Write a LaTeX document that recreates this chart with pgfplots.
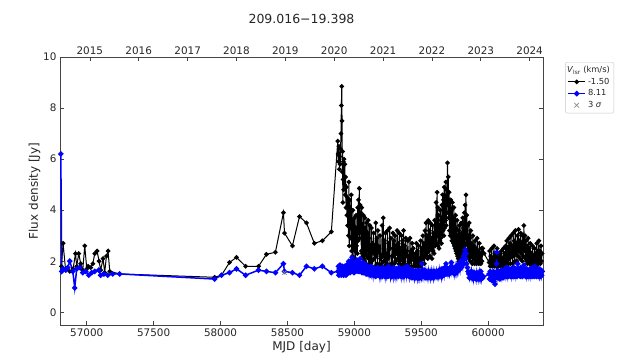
\documentclass[border=0pt]{standalone}
\usepackage{pgfplots}
\pgfplotsset{compat=1.18}
\usepackage{fontspec}
\setmainfont{DejaVu Sans}

\definecolor{framegray}{HTML}{444444}
\definecolor{labelgray}{HTML}{262626}

\begin{document}
\begin{tikzpicture}
\pgfplotsset{
  lcstyle/.style={
    width=483pt, height=268pt, scale only axis,
    xmin=56800, xmax=60410,
    ymin=-0.5, ymax=10,
    axis line style={framegray, line width=0.8pt},
    tick style={framegray, line width=0.6pt},
    tick align=inside,
    major tick length=4pt,
    scaled x ticks=false,
    /pgf/number format/assume math mode=true,
    /pgf/number format/1000 sep={},
    ticklabel style={font=\fontsize{10.4}{12}\selectfont, text=labelgray},
    label style={font=\fontsize{12}{14}\selectfont, text=labelgray},
  }
}
\begin{axis}[lcstyle, name=ax,
  xtick={57000,57500,58000,58500,59000,59500,60000},
  ytick={0,2,4,6,8,10},
  xtick pos=bottom, ytick pos=both,
  xlabel={MJD [day]}, ylabel={Flux density [Jy]},
  xlabel style={yshift=2pt}, ylabel style={yshift=-4pt},
  clip=true,
  legend style={at={(1.046,0.981)}, anchor=north west,
    font=\fontsize{8.3}{10}\selectfont, text=labelgray,
    draw=black!22, rounded corners=2pt, inner sep=2pt,
    row sep=0pt},
  legend cell align=left,
]
\addlegendimage{empty legend}
\addlegendentry{\hspace{-21pt}\textit{V}\textsubscript{lsr} (km/s)}

% V = -1.50 km/s
\addplot[black, line width=1pt, mark=*, mark size=1.8pt] coordinates {
(56811,1.8)(56823,2.7)(56841,1.7)(56873,1.6)(56898,1.7)(56916,2.3)(56925,1.8)(56940,2.3)(56955,1.9)(56970,1.65)(56985,2.6)(57000,1.7)(57010,1.8)(57030,1.75)(57045,1.9)(57060,2.3)(57077,2.4)(57092,2.0)(57104,1.65)(57122,2.1)(57134,1.55)(57147,2.2)(57159,2.4)(57172,1.6)(57246,1.5)
(57955,1.37)(58007,1.45)(58067,1.95)(58119,2.15)(58187,1.8)(58284,1.8)(58343,2.27)(58410,2.35)(58470,3.9)(58478,3.1)(58537,2.6)(58590,3.75)(58642,3.5)(58701,2.7)(58761,2.8)(58828,3.15)
(58876,6.7)(58879,6.2)(58882,5.9)(58885,6.5)(58888,5.6)(58891,6.1)(58894,5.8)(58897,6.4)(58900,7.0)(58903,8.1)(58906,8.85)(58908,7.5)(58910,5.5)(58912,6.3)(58914,4.3)(58916,5.2)(58918,5.9)(58920,4.8)(58923,6.0)(58926,5.0)(58929,5.8)(58932,4.6)(58935,5.3)(58938,4.1)(58941,4.9)(58944,3.8)(58947,4.5)(58950,3.4)
(58953,4.2)(58956,3.0)(58959,5.1)(58962,2.6)(58965,4.4)(58968,3.3)(58971,3.9)(58974,2.9)(58977,4.6)(58980,2.4)(58983,3.6)(58986,2.2)(58989,4.0)(58992,2.5)(58995,3.4)(58998,2.1)
(59001,3.7)(59004,2.4)(59007,2.8)(59010,2.0)(59013,3.8)(59016,2.6)(59019,3.3)(59022,2.3)(59025,4.1)(59028,2.8)(59031,4.4)(59034,3.1)(59037,4.85)(59040,2.9)(59043,4.2)(59046,3.2)(59049,3.9)(59052,2.4)(59055,4.1)(59058,2.3)(59061,3.2)(59064,2.2)(59067,3.8)(59070,2.1)(59073,3.3)
(59076,2.0)(59079,3.7)(59082,2.3)(59085,2.7)(59088,1.9)(59091,3.5)(59094,2.2)(59097,3.0)(59100,2.5)(59103,3.6)(59106,2.1)(59109,2.9)(59112,1.9)(59115,3.4)(59118,2.0)(59121,2.4)(59124,1.9)
(59128,3.3)(59132,2.0)(59136,2.7)(59140,2.3)(59144,3.1)(59148,2.1)(59152,2.6)(59156,1.8)(59160,3.5)(59164,2.2)(59168,2.9)(59172,1.9)(59176,3.2)(59180,2.4)(59184,2.5)(59188,1.8)(59192,3.0)(59196,2.1)(59200,2.2)(59204,1.9)(59208,3.4)(59212,2.2)(59216,3.7)(59220,2.0)(59224,2.8)(59228,1.8)(59232,3.1)(59236,2.0)(59240,2.2)(59244,1.9)(59248,3.2)(59252,2.1)(59256,2.7)(59260,1.8)(59264,3.3)(59268,2.5)(59272,2.9)(59276,1.9)(59280,2.2)(59284,1.8)(59288,3.1)(59292,2.2)(59296,2.8)(59300,1.9)(59304,3.0)(59308,2.0)(59312,2.6)(59316,2.3)(59320,3.2)(59324,2.1)(59328,2.7)(59332,1.9)(59336,3.1)(59340,2.0)(59344,2.5)(59348,1.8)(59352,3.0)(59356,2.1)(59360,2.8)(59364,1.9)(59368,3.2)(59372,2.0)(59376,2.6)(59380,1.8)(59384,2.9)(59388,2.2)(59392,2.4)(59396,1.8)(59400,2.8)(59404,1.9)(59408,2.2)(59412,1.8)(59416,2.9)(59420,2.0)(59424,2.4)(59428,1.8)(59432,2.7)(59436,2.1)(59440,2.5)(59444,1.8)(59448,2.2)(59452,1.9)(59456,2.3)(59460,1.8)(59464,2.7)(59468,2.0)(59472,2.4)(59476,1.8)(59480,2.6)(59484,1.9)(59488,2.1)(59492,1.8)(59496,2.8)(59500,2.0)(59504,2.5)(59508,1.9)(59512,3.0)(59516,2.1)(59520,2.7)(59524,1.9)(59528,3.2)(59532,2.2)
(59536,3.5)(59540,2.3)(59544,3.0)(59548,2.1)(59552,3.6)(59556,2.4)(59560,3.2)(59564,2.2)(59568,3.5)(59572,2.5)(59576,2.9)(59580,2.1)(59584,3.4)(59588,2.4)(59592,3.1)(59596,2.3)(59600,3.6)(59604,2.6)(59608,3.3)
(59612,4.3)(59615,2.7)(59618,4.7)(59621,3.0)(59624,4.1)(59627,2.6)(59630,3.8)(59633,2.5)(59636,3.4)(59639,2.8)(59642,4.0)(59645,2.9)(59648,3.6)(59651,2.7)(59654,4.2)(59657,3.0)
(59660,4.6)(59663,3.2)(59666,4.4)(59669,3.0)(59672,4.9)(59675,3.3)(59678,4.5)(59681,3.6)(59684,5.1)(59687,3.4)(59690,4.8)(59693,3.9)(59696,5.85)(59699,4.2)(59702,5.3)(59705,3.7)(59708,4.7)(59711,3.2)(59714,4.4)(59717,3.0)
(59720,4.4)(59723,3.1)(59726,4.0)(59729,2.8)(59732,4.3)(59735,2.9)(59738,3.7)(59741,2.7)(59744,4.1)(59747,2.6)(59750,3.6)(59753,2.5)(59756,3.8)(59759,2.4)(59762,3.3)(59765,2.3)(59768,3.6)(59771,2.2)(59774,3.0)(59777,2.1)(59780,3.2)(59783,2.0)
(59786,3.4)(59789,2.2)(59792,3.0)(59795,2.1)(59798,3.5)(59801,2.3)(59804,3.1)(59807,2.2)(59810,3.7)(59813,2.4)(59816,3.3)(59819,2.5)(59822,3.9)(59825,2.6)(59828,4.2)(59831,2.9)(59834,4.6)(59837,2.7)(59840,3.8)
(59843,2.4)(59846,3.4)(59849,2.2)(59852,3.0)(59855,2.1)(59858,3.5)(59861,2.3)(59864,2.9)(59867,2.0)(59870,3.2)(59874,2.2)(59878,2.7)(59882,1.9)(59886,3.0)(59890,2.1)(59894,2.6)(59898,1.9)(59902,2.8)(59906,2.0)(59910,2.5)(59914,1.9)(59918,2.9)(59922,2.0)(59926,2.4)(59930,1.9)(59934,2.7)(59938,2.0)(59942,2.3)(59946,1.9)(59950,2.5)(59954,2.0)(59960,2.5)(59970,2.3)
(60007,1.95)(60011,2.4)(60015,1.8)(60019,2.2)(60023,1.9)(60027,2.5)(60031,1.8)(60035,2.1)(60039,1.9)(60043,2.6)(60047,1.8)(60051,2.3)(60055,1.9)(60059,2.2)(60063,1.8)(60067,2.5)(60071,1.9)(60075,2.1)(60079,1.8)(60083,2.3)(60087,1.9)(60091,2.2)(60095,1.8)(60099,2.4)(60103,1.9)(60107,2.1)(60111,1.8)(60115,2.5)(60119,2.0)(60123,2.3)(60127,1.9)(60131,2.6)(60135,2.0)(60139,2.8)(60143,2.0)(60147,2.5)(60151,1.9)(60155,2.9)
(60159,2.1)(60163,2.7)(60167,1.9)(60171,3.0)(60175,2.2)(60179,2.6)(60183,1.9)(60187,3.1)(60191,2.2)(60195,2.8)(60199,2.0)(60203,3.2)(60207,2.3)(60211,2.7)(60215,2.0)(60219,3.0)(60223,2.2)(60227,3.25)(60231,2.4)(60235,2.8)(60239,2.1)(60243,3.1)(60247,2.3)(60251,2.7)(60255,2.0)(60259,3.0)(60263,2.2)(60267,3.4)(60271,2.4)(60275,3.0)(60279,2.1)(60283,2.8)(60287,2.0)(60291,2.6)(60295,1.9)(60299,2.9)
(60303,2.0)(60307,2.5)(60311,1.9)(60315,2.7)(60319,2.0)(60323,2.3)(60327,1.8)(60331,2.6)(60335,1.9)(60339,2.2)(60343,1.8)(60347,2.5)(60351,1.9)(60355,2.3)(60359,1.8)(60363,2.7)(60367,2.0)(60371,2.4)(60375,1.9)(60379,2.8)(60383,2.0)(60387,2.4)(60391,1.9)(60395,2.6)(60399,2.0)(60403,2.3)
};
\addlegendentry{-1.50}

% V = 8.11 km/s
\addplot[blue, line width=1.5pt, mark=*, mark size=1.9pt] coordinates {
(56806,6.2)(56813,1.6)(56821,1.7)(56843,1.65)(56858,1.75)(56873,2.0)(56896,1.6)(56910,0.95)(56925,1.7)(56948,1.75)(56970,1.55)(56993,1.6)(57015,1.45)(57037,1.55)(57060,1.6)(57090,1.65)(57104,1.45)(57127,1.5)(57157,1.45)(57194,1.5)(57246,1.5)
(57955,1.3)(58007,1.45)(58067,1.55)(58119,1.7)(58187,1.45)(58284,1.65)(58343,1.6)(58410,1.55)(58470,1.9)(58478,1.6)(58537,1.55)(58590,1.45)(58642,1.8)(58701,1.7)(58761,1.8)(58828,1.55)
(58878,1.6)(58881,1.8)(58884,1.45)(58887,1.7)(58890,1.5)(58893,1.85)(58896,1.55)(58899,1.75)(58902,1.45)(58905,1.7)(58908,1.5)(58911,1.8)(58914,1.55)(58917,1.75)(58920,1.45)(58923,1.65)(58926,1.5)(58929,1.8)(58932,1.55)(58935,1.7)(58938,1.45)(58941,1.75)(58944,1.5)(58947,1.85)(58950,1.55)
(58953,1.9)(58956,1.6)(58959,2.0)(58962,1.65)(58965,1.85)(58968,1.55)(58971,2.0)(58974,1.7)(58977,1.9)(58980,1.6)(58983,2.15)(58986,1.7)(58989,1.95)(58992,1.6)(58995,1.85)(58998,1.55)(59001,1.9)(59004,1.65)(59007,2.0)(59010,1.6)(59013,1.85)(59016,1.7)(59019,2.05)(59022,1.65)(59025,1.9)(59028,1.6)(59031,2.0)(59034,1.7)(59037,1.85)(59040,1.6)(59043,2.1)(59046,1.7)(59049,1.9)(59052,1.6)(59055,1.85)(59058,1.55)(59061,1.95)(59064,1.65)(59067,1.8)(59070,1.55)(59073,1.9)(59076,1.6)(59079,1.8)(59082,1.55)(59085,1.75)(59088,1.5)(59091,1.85)(59094,1.6)(59097,1.75)(59100,1.5)
(59105,1.75)(59110,1.5)(59115,1.7)(59120,1.45)(59125,1.8)(59130,1.5)(59135,1.65)(59140,1.45)(59145,1.75)(59150,1.5)(59155,1.65)(59160,1.4)(59165,1.7)(59170,1.45)(59175,1.75)(59180,1.5)(59185,1.6)(59190,1.4)(59195,1.7)(59200,1.45)(59205,1.65)(59210,1.4)(59215,1.75)(59220,1.5)(59225,1.6)(59230,1.4)(59235,1.7)(59240,1.45)(59245,1.65)(59250,1.4)(59255,1.8)(59260,1.5)(59265,1.6)(59270,1.4)(59275,1.7)(59280,1.45)(59285,1.6)(59290,1.4)(59295,1.75)(59300,1.45)(59305,1.6)(59310,1.4)(59315,1.7)(59320,1.45)(59325,1.65)(59330,1.4)(59335,1.75)(59340,1.5)(59345,1.6)(59350,1.4)(59355,1.7)(59360,1.45)(59365,1.6)(59370,1.4)(59375,1.75)(59380,1.5)(59385,1.65)(59390,1.45)(59395,1.8)(59400,1.5)
(59405,1.6)(59410,1.4)(59415,1.7)(59420,1.45)(59425,1.6)(59430,1.35)(59435,1.65)(59440,1.4)(59445,1.55)(59450,1.35)(59455,1.6)(59460,1.4)(59465,1.55)(59470,1.35)(59475,1.65)(59480,1.4)(59485,1.6)(59490,1.35)(59495,1.55)(59500,1.4)(59505,1.9)(59510,1.45)(59515,1.6)(59520,1.4)(59525,1.65)(59530,1.35)(59535,1.6)(59540,1.4)(59545,1.55)(59550,1.35)(59555,1.6)(59560,1.4)(59565,1.55)(59570,1.35)(59575,1.6)(59580,1.4)(59585,1.55)(59590,1.35)(59595,1.6)(59600,1.4)(59605,1.55)(59610,1.4)(59615,1.6)(59620,1.4)(59625,1.55)(59630,1.4)(59635,1.65)(59640,1.45)(59645,1.6)(59650,1.4)(59655,1.7)(59660,1.45)(59665,1.6)(59670,1.45)(59675,1.75)(59680,1.5)(59685,1.9)(59690,1.5)(59695,1.7)(59700,1.5)
(59705,1.65)(59710,1.5)(59715,1.75)(59720,1.55)(59725,1.95)(59730,1.6)(59735,1.75)(59740,1.55)(59745,1.7)(59750,1.5)(59755,1.75)(59760,1.55)(59765,1.8)(59770,1.6)(59775,1.85)(59780,1.65)(59785,1.9)(59790,1.7)(59795,2.0)(59800,1.75)(59805,2.05)(59810,1.85)(59815,2.2)(59820,1.9)(59825,2.3)(59828,2.45)(59832,2.1)(59836,2.3)(59840,1.9)(59845,1.75)(59850,1.6)
(59855,1.5)(59860,1.35)(59865,1.55)(59870,1.4)(59875,1.6)(59880,1.35)(59885,1.5)(59890,1.3)(59895,1.55)(59900,1.4)(59905,1.5)(59910,1.3)(59915,1.55)(59920,1.35)(59925,1.5)(59930,1.3)(59935,1.55)(59940,1.35)(59945,1.6)(59950,1.3)(59955,1.45)(59960,1.35)
(60007,1.5)(60011,1.3)(60015,1.6)(60019,1.35)(60023,1.55)(60027,1.25)(60031,1.5)(60035,1.3)(60039,1.6)(60043,1.2)(60047,1.45)(60051,1.1)(60055,1.5)(60059,1.35)(60063,1.9)(60065,2.35)(60068,1.6)(60072,1.4)(60076,1.6)(60080,1.35)(60084,1.55)(60088,1.3)(60092,1.6)(60096,1.4)(60100,1.65)(60104,1.4)(60108,1.55)(60112,1.35)(60116,1.6)(60120,1.4)(60124,1.7)(60128,1.45)(60132,1.6)(60136,1.4)(60140,1.75)(60144,1.45)(60148,1.6)(60152,1.4)(60156,1.7)
(60160,1.45)(60164,1.65)(60168,1.4)(60172,1.7)(60176,1.45)(60180,1.6)(60184,1.4)(60188,1.75)(60192,1.5)(60196,1.65)(60200,1.4)(60204,1.7)(60208,1.45)(60212,1.6)(60216,1.4)(60220,1.9)(60224,1.5)(60228,1.7)(60232,1.45)(60236,1.65)(60240,1.4)(60244,1.75)(60248,1.5)(60252,1.6)(60256,1.4)(60260,1.7)(60264,1.45)(60268,1.85)(60272,1.5)(60276,1.65)(60280,1.4)(60284,1.7)(60288,1.45)(60292,1.6)(60296,1.4)(60300,1.65)(60304,1.45)(60308,1.6)(60312,1.4)(60316,1.7)(60320,1.45)(60324,1.6)(60328,1.4)(60332,1.75)(60336,1.5)(60340,1.6)(60344,1.4)(60348,1.8)(60352,1.45)(60356,1.6)(60360,1.4)(60364,1.7)(60368,1.45)(60372,1.65)(60376,1.4)(60380,1.7)(60384,1.45)(60388,1.6)(60392,1.4)(60396,1.65)(60400,1.45)(60404,1.6)
};
\addlegendentry{8.11}

% detections below 3 sigma
\addplot[only marks, mark=x, mark size=3.2pt, black!45, line width=0.7pt] coordinates {(58478,1.55)};
\addlegendentry{3 \textit{σ}}
\end{axis}

% calendar years along the top
\begin{axis}[lcstyle,
  axis y line=none, axis x line*=top,
  axis line style={framegray, line width=0.8pt, -},
  xtick={57023,57388,57754,58119,58484,58849,59215,59580,59945,60310},
  xticklabels={2015,2016,2017,2018,2019,2020,2021,2022,2023,2024},
  xticklabel style={yshift=-1pt},
]
\addplot[draw=none] coordinates {(57000,0)};
\end{axis}

\node[anchor=base, font=\fontsize{12.5}{15}\selectfont, text=labelgray]
  at ([yshift=33pt]ax.north) {209.016−19.398};

\path ([shift={(-60pt,-38pt)}]ax.south west) rectangle ([shift={(80pt,57pt)}]ax.north east);
\end{tikzpicture}
\end{document}
